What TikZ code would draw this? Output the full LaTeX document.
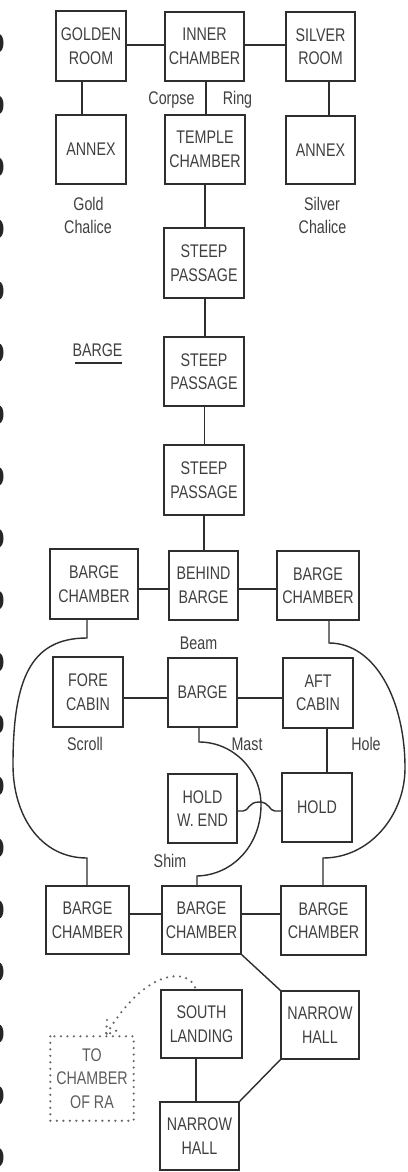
\documentclass[tikz,border=0pt]{standalone}
\usepackage{fontspec}
\newfontfamily\cond{Liberation Sans}[FakeStretch=0.78]
\definecolor{ink}{HTML}{2E2E2E}
\definecolor{txt}{HTML}{404040}
\begin{document}
\begin{tikzpicture}[x=1pt,y=-1pt,
  room/.style={draw=ink, line width=1.4pt, inner sep=0pt, align=center, text=txt,
    font=\cond\fontsize{18.3}{23.5}\selectfont},
  lbl/.style={inner sep=0pt, anchor=base, text=txt, font=\cond\fontsize{18.3}{23.5}\selectfont},
  link/.style={draw=ink, line width=1.4pt},
  dotline/.style={draw=txt!80, line width=2.4pt, line cap=round, dash pattern=on 0pt off 6.5pt}]
\useasboundingbox[fill=white] (0,0) rectangle (407,1172);

% binding holes on the left edge
\foreach \i in {0,...,18} \fill[black!85] (-1,43+61.9*\i) ellipse [x radius=4.5, y radius=9];

% top rooms
\node[room, minimum width=70pt, minimum height=70pt] (golden) at (91,46) {GOLDEN\\ROOM};
\node[room, minimum width=79pt, minimum height=69pt] (inner) at (204.5,46.5) {INNER\\CHAMBER};
\node[room, minimum width=69pt, minimum height=69pt] (silver) at (320.5,46.5) {SILVER\\ROOM};
\node[room, minimum width=70pt, minimum height=69pt] (annexL) at (91,149.5) {ANNEX};
\node[room, minimum width=80pt, minimum height=69pt] (temple) at (205,149.5) {TEMPLE\\CHAMBER};
\node[room, minimum width=69pt, minimum height=68pt] (annexR) at (320.5,150) {ANNEX};
\node[room, minimum width=80pt, minimum height=70pt] (steep1) at (204,263) {STEEP\\PASSAGE};
\node[room, minimum width=80pt, minimum height=69pt] (steep2) at (204,371.5) {STEEP\\PASSAGE};
\node[room, minimum width=80pt, minimum height=70pt] (steep3) at (204,480) {STEEP\\PASSAGE};

% barge level
\node[room, minimum width=88pt, minimum height=70pt] (bcL) at (94,584) {BARGE\\CHAMBER};
\node[room, minimum width=69pt, minimum height=69pt] (behind) at (203.5,585.5) {BEHIND\\BARGE};
\node[room, minimum width=82pt, minimum height=69pt] (bcR) at (318,585.5) {BARGE\\CHAMBER};
\node[room, minimum width=70pt, minimum height=70pt] (fore) at (88,692) {FORE\\CABIN};
\node[room, minimum width=69pt, minimum height=69pt] (barge) at (202.5,692.5) {BARGE};
\node[room, minimum width=70pt, minimum height=70pt] (aft) at (318,693) {AFT\\CABIN};
\node[room, minimum width=69pt, minimum height=69pt] (holdw) at (202.5,808.5) {HOLD\\W. END};
\node[room, minimum width=70pt, minimum height=69pt] (hold) at (317,807.5) {HOLD};
\node[room, minimum width=83pt, minimum height=68pt] (bc2L) at (87.5,920) {BARGE\\CHAMBER};
\node[room, minimum width=79pt, minimum height=68pt] (bc2M) at (201.5,920) {BARGE\\CHAMBER};
\node[room, minimum width=85pt, minimum height=69pt] (bc2R) at (323.5,920.5) {BARGE\\CHAMBER};

% bottom
\node[room, minimum width=81pt, minimum height=68pt] (south) at (201.5,1024) {SOUTH\\LANDING};
\node[room, minimum width=78pt, minimum height=68pt] (narrowR) at (320,1025) {NARROW\\HALL};
\node[room, minimum width=79pt, minimum height=68pt] (narrowB) at (199.5,1136) {NARROW\\HALL};
\node[room, draw=none, text=txt!85, minimum width=82pt, minimum height=83pt] (ra) at (92,1078.5) {TO\\CHAMBER\\OF RA};
\draw[dotline] (ra.north west) rectangle (ra.south east);

% labels
\node[lbl] (corpse) at (171.5,104) {Corpse};
\node[lbl] (ring) at (237.5,104) {Ring};
\node[lbl] (gold1) at (88.5,210) {Gold};
\node[lbl] (gold2) at (88,233) {Chalice};
\node[lbl] (silv1) at (322,210) {Silver};
\node[lbl] (silv2) at (322.5,233) {Chalice};
\node[lbl] (bargetitle) at (97.5,356) {BARGE};
\draw[ink, line width=1.3pt] (75,363) -- (122,363);
\node[lbl] (beam) at (198.5,649) {Beam};
\node[lbl] (scroll) at (85,750) {Scroll};
\node[lbl] (mast) at (247,750) {Mast};
\node[lbl] (hole) at (366,750) {Hole};
\node[lbl] (shim) at (170,867) {Shim};

% connectors, top
\draw[link] (golden.east |- 0,45) -- (inner.west |- 0,45);
\draw[link] (inner.east |- 0,45) -- (silver.west |- 0,45);
\draw[link] ([xshift=-9pt]golden.south) -- ([xshift=-9pt]annexL.north);
\draw[link] ([xshift=1.5pt]inner.south) -- ([xshift=1pt]temple.north);
\draw[link] ([xshift=8.5pt]silver.south) -- ([xshift=8.5pt]annexR.north);
\draw[link] (temple.south) -- ([xshift=1pt]steep1.north);
\draw[link] ([xshift=1pt]steep1.south) -- ([xshift=1pt]steep2.north);
\draw[link] ([xshift=0.5pt]steep2.south) -- ([xshift=0.5pt]steep3.north);
\draw[link] (steep3.south) -- ([xshift=0.5pt]behind.north);

% barge level
\draw[link] (bcL.east |- 0,589) -- (behind.west |- 0,589);
\draw[link] (behind.east |- 0,589) -- (bcR.west |- 0,589);
\draw[link] (fore.east |- 0,698) -- (barge.west |- 0,698);
\draw[link] (barge.east |- 0,698) -- (aft.west |- 0,698);
\draw[link] ([xshift=9pt]aft.south) -- ([xshift=10pt]hold.north);
\draw[link] (holdw.east |- 0,811) -- (243,811)
  .. controls (249,811) and (248,802) .. (259,802)
  .. controls (270,802) and (269,811) .. (275,811) -- (hold.west |- 0,811);
\draw[link] ([xshift=-7pt]bcL.south) -- (87,638)
  .. controls (30,638) and (13,680) .. (13,765)
  .. controls (13,815) and (40,858) .. (87,858) -- ([xshift=-0.5pt]bc2L.north);
\draw[link] ([xshift=11pt]bcR.south) -- (329,643)
  .. controls (375,643) and (405,700) .. (405,768)
  .. controls (405,815) and (370,858) .. (323,858) -- ([xshift=-0.5pt]bc2R.north);
\draw[link] ([xshift=-3.5pt]barge.south) -- (199,742)
  .. controls (233,742) and (261,770) .. (261,805)
  .. controls (261,845) and (233,875) .. (197,876) -- ([xshift=-4.5pt]bc2M.north);
\draw[link] (bc2L.east |- 0,914) -- (bc2M.west |- 0,914);
\draw[link] (bc2M.east |- 0,914) -- (bc2R.west |- 0,914);

% bottom
\draw[link] (bc2M.south east) -- (narrowR.north west);
\draw[link] (narrowR.south west) -- (narrowB.north east);
\draw[link] ([xshift=-5.5pt]south.south) -- ([xshift=-3.5pt]narrowB.north);
\coordinate (tip) at (106,1035);
\draw[dotline] ([xshift=-6.5pt,yshift=2pt]south.north) .. controls (188,968) and (145,968) .. (tip);
\draw[dotline] (107,1020) -- (tip) -- (118,1030);
\end{tikzpicture}
\end{document}
